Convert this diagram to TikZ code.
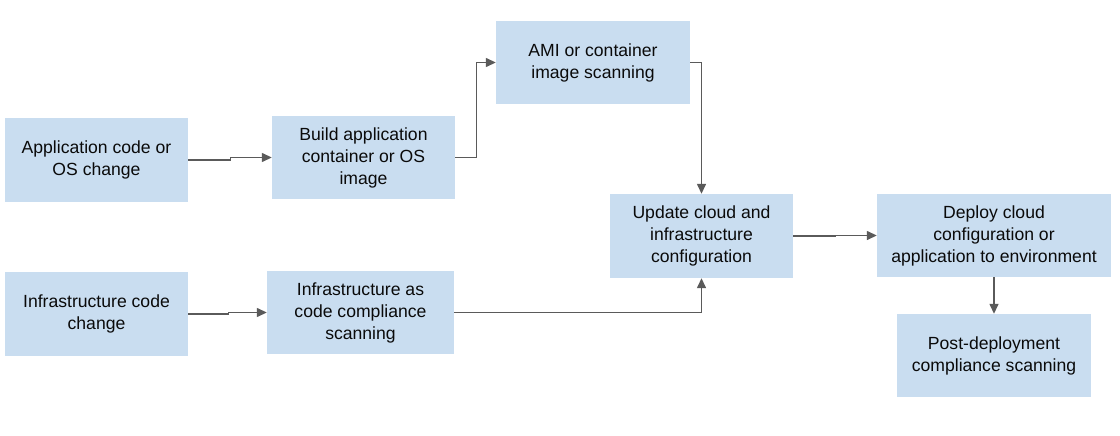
\documentclass[tikz,border=0pt]{standalone}
\usepackage{fontspec}
\setmainfont{Liberation Sans}
\usetikzlibrary{arrows.meta}
\definecolor{boxfill}{RGB}{201,221,240}
\definecolor{linegray}{RGB}{90,90,90}
\definecolor{txt}{RGB}{10,10,10}
\tikzset{
  stepbox/.style={rectangle, fill=boxfill, draw=none, inner sep=0pt, align=center,
    text=txt, font=\fontsize{17.6}{22}\selectfont},
  conn/.style={draw=linegray, line width=1.4pt, -{Triangle[length=10pt,width=9pt]}}
}
\begin{document}
\begin{tikzpicture}[x=1pt,y=-1pt]
\useasboundingbox (0,0) rectangle (1120,436);
\node[stepbox, minimum width=183pt, minimum height=84pt] (A) at (96.5,160) {Application code or\\OS change};
\node[stepbox, minimum width=183pt, minimum height=83pt] (B) at (363.5,157.5) {Build application\\container or OS\\image};
\node[stepbox, minimum width=194pt, minimum height=83pt] (C) at (593,62.5) {AMI or container\\image scanning};
\node[stepbox, minimum width=183pt, minimum height=84pt] (D) at (701.5,236) {Update cloud and\\infrastructure\\configuration};
\node[stepbox, minimum width=234pt, minimum height=83pt] (E) at (994,235.5) {Deploy cloud\\configuration or\\application to environment};
\node[stepbox, minimum width=194pt, minimum height=83pt] (F) at (994,355.5) {Post-deployment\\compliance scanning};
\node[stepbox, minimum width=183pt, minimum height=84pt] (G) at (96.5,314) {Infrastructure code\\change};
\node[stepbox, minimum width=187pt, minimum height=83pt] (H) at (360.5,312.5) {Infrastructure as\\code compliance\\scanning};
\draw[conn] (A.east) -- ++(42,0) |- (B.west);
\draw[conn] (B.east) -- ++(21,0) |- (C.west);
\draw[conn] (C.east) -| (D.north);
\draw[conn] (H.east) -| (D.south);
\draw[conn] (D.east) -- ++(42,0) |- (E.west);
\draw[conn] (E.south) -- (F.north);
\draw[conn] (G.east) -- ++(40,0) |- (H.west);
\end{tikzpicture}
\end{document}
